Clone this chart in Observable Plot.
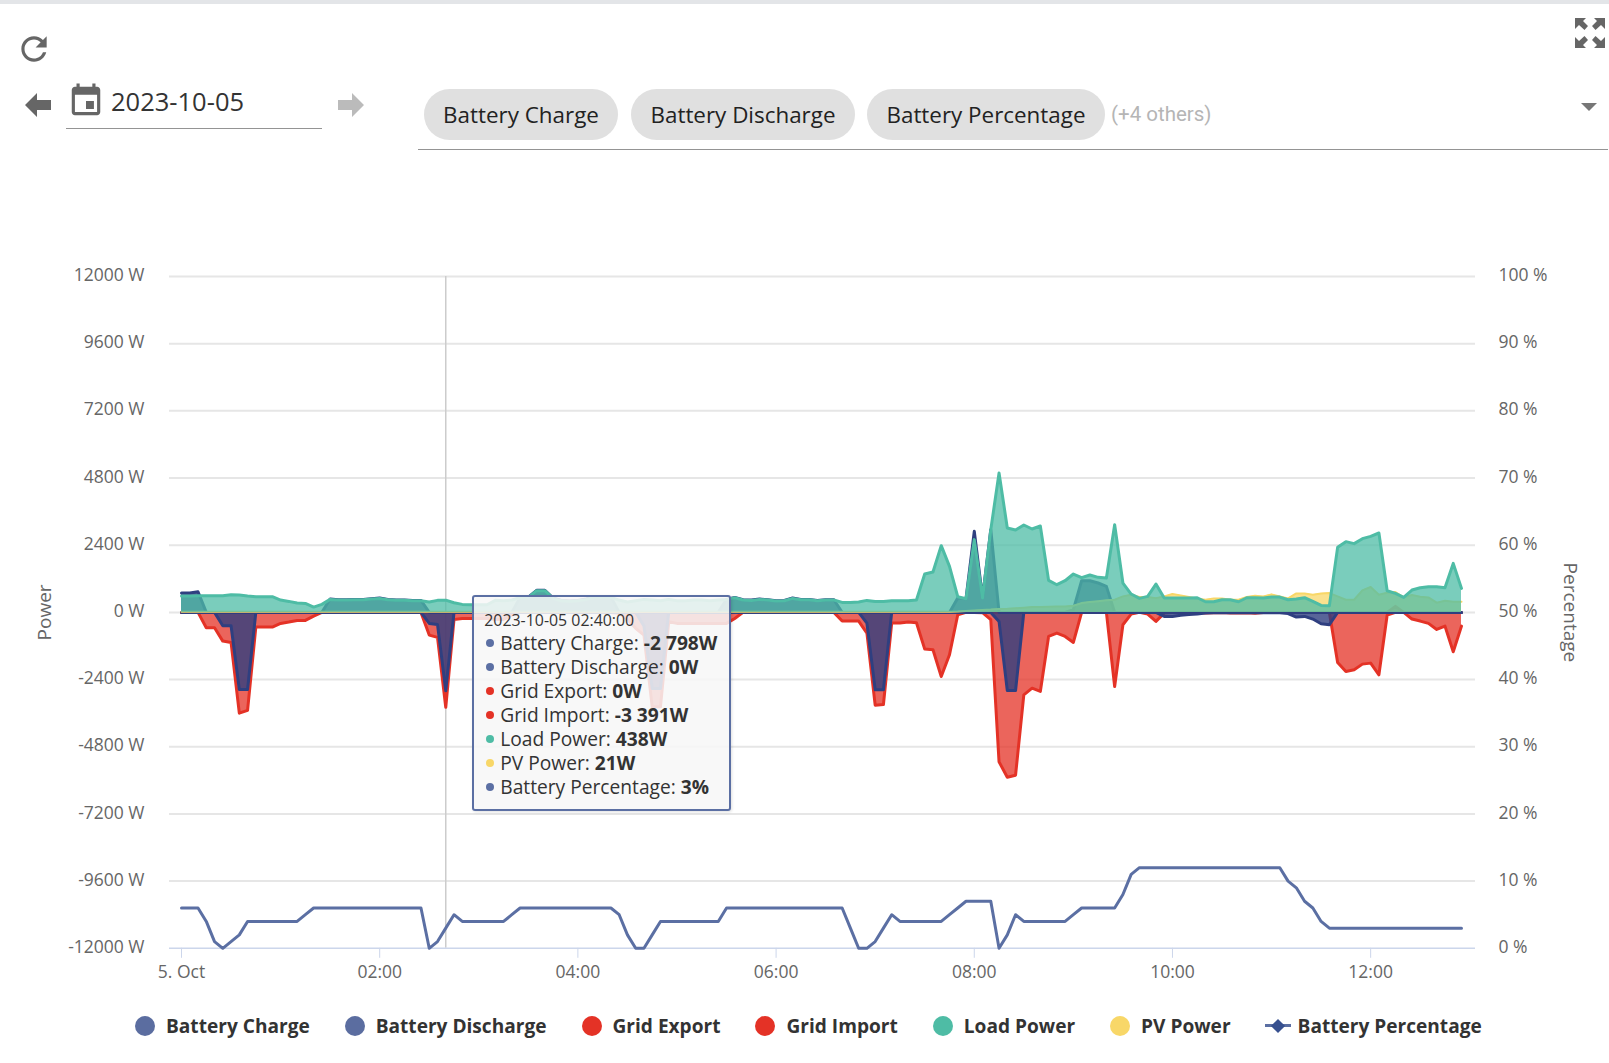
<!DOCTYPE html>
<html>
<head>
<meta charset="utf-8">
<script src="https://cdn.jsdelivr.net/npm/d3@7"></script>
<script src="https://cdn.jsdelivr.net/npm/@observablehq/plot@0.6"></script>
<style>
html,body{margin:0;padding:0;background:#fff;font-family:"Open Sans",sans-serif;}
#page{position:relative;width:1609px;height:1063px;overflow:hidden;}
#head{position:relative;height:200px;}
#head>*{position:absolute;}
.chip{background:#e0e0e0;border-radius:26px;height:51px;top:89px;display:flex;align-items:center;justify-content:center;font-size:22.4px;color:#222;}
#chart svg{display:block;}
#legend{display:flex;align-items:center;height:71px;padding-left:135px;gap:35px;font-weight:700;font-size:19.1px;color:#333;}
#legend .it{display:flex;align-items:center;gap:11px;}
#legend .dot{width:20px;height:20px;border-radius:50%;display:inline-block;}
#legend .ln{width:26px;height:3px;background:#5b6fa3;position:relative;display:inline-block;margin-left:-1px;margin-right:-4px;}
#legend .ln:after{content:"";position:absolute;left:8px;top:-3.5px;width:10px;height:10px;background:#37508f;transform:rotate(45deg);}
#tip{position:absolute;box-sizing:border-box;width:259px;height:216px;background:rgba(247,247,247,.86);border:2px solid #5b6fa3;border-radius:3px;color:#333;box-shadow:1px 1px 3px rgba(0,0,0,.12);}
#tip .ts{position:absolute;left:10px;top:13px;font-size:15.9px;line-height:20px;}
#tip .r{position:absolute;left:26px;font-size:19.2px;line-height:24px;white-space:nowrap;}
#tip .r:before{content:"";position:absolute;left:-14px;top:8px;width:8px;height:8px;border-radius:50%;background:var(--c);}
</style>
</head>
<body>
<div id="page">
  <div id="head">
    <div style="left:0;top:0;width:1609px;height:4px;background:#e3e5e8"></div>
    <svg style="left:15px;top:30px" width="38" height="38" viewBox="0 0 24 24" fill="#666"><path d="M17.65 6.35C16.2 4.9 14.21 4 12 4c-4.42 0-7.99 3.58-7.99 8s3.57 8 7.99 8c3.73 0 6.84-2.55 7.73-6h-2.08c-.82 2.33-3.04 4-5.65 4-3.31 0-6-2.69-6-6s2.69-6 6-6c1.66 0 3.14.69 4.22 1.78L13 11h7V4l-2.35 2.35z"/></svg>
    <svg style="left:25px;top:93px" width="26" height="24" viewBox="0 0 26 24" fill="#666"><polygon points="0,12 12,0 12,7 26,7 26,17 12,17 12,24"/></svg>
    <svg style="left:67px;top:82px" width="38" height="38" viewBox="0 0 24 24" fill="#666"><path d="M17 12h-5v5h5v-5zM16 1v2H8V1H6v2H5c-1.11 0-1.99.9-1.99 2L3 19c0 1.1.89 2 2 2h14c1.1 0 2-.9 2-2V5c0-1.1-.9-2-2-2h-1V1h-2zm3 18H5V8h14v11z"/></svg>
    <div style="left:111px;top:83px;font-size:25.5px;line-height:36px;color:#333">2023-10-05</div>
    <div style="left:66px;top:128px;width:256px;height:1px;background:#949494"></div>
    <svg style="left:338px;top:93px" width="26" height="24" viewBox="0 0 26 24" fill="#bbb"><polygon points="26,12 14,0 14,7 0,7 0,17 14,17 14,24"/></svg>
    <div class="chip" style="left:424px;width:194px">Battery Charge</div>
    <div class="chip" style="left:631px;width:224px">Battery Discharge</div>
    <div class="chip" style="left:867px;width:238px">Battery Percentage</div>
    <div style="left:1111px;top:99px;font-family:Roboto;font-size:20.5px;line-height:30px;color:#b5b5b5">(+4 others)</div>
    <svg style="left:1581px;top:103px" width="16" height="8" viewBox="0 0 16 8" fill="#777"><polygon points="0,0 16,0 8,8"/></svg>
    <div style="left:418px;top:149px;width:1190px;height:1px;background:#949494"></div>
    <svg style="left:1575px;top:18px" width="30" height="30" viewBox="0 0 30 30" fill="#666">
      <polygon points="0,0 11,0 8,3 13,8 9.5,12 4,7 0,11"/>
      <polygon points="30,0 19,0 22,3 17,8 20.5,12 26,7 30,11"/>
      <polygon points="0,30 11,30 8,27 13,22 9.5,18 4,23 0,19"/>
      <polygon points="30,30 19,30 22,27 17,22 20.5,18 26,23 30,19"/>
    </svg>
  </div>
  <div id="chart"></div>
  <div id="legend"></div>
</div>
<script>
const seriesNames = ["Battery Charge","Battery Discharge","Grid Export","Grid Import","Load Power","PV Power","Battery Percentage"];
const tooltipStamp = "2023-10-05 02:40:00";
const tooltipIndex = 32;
const yTicks = [12000,9600,7200,4800,2400,0,-2400,-4800,-7200,-9600,-12000];
const pctTicks = [100,90,80,70,60,50,40,30,20,10,0];
const xTickHours = [0,2,4,6,8,10,12];
const xTickLabels = ["5. Oct","02:00","04:00","06:00","08:00","10:00","12:00"];

const loadPower = [
584,584,596,596,596,596,630,620,584,560,
560,560,440,393,334,322,190,286,465,441,
441,453,453,477,500,453,430,430,417,417,
370,430,438,346,286,274,274,274,430,417,
441,525,536,775,775,500,417,393,417,465,
536,536,536,441,370,417,465,441,417,465,
417,417,441,441,417,441,465,524,441,429,
465,441,405,417,500,453,453,417,441,441,
358,358,370,429,393,393,417,417,417,441,
1371,1442,2384,1645,560,489,2600,513,2956,4983,
3016,2944,3123,2980,3087,1144,989,1132,1371,1240,
1335,1252,1228,3135,1049,656,500,572,1013,513,
513,513,513,524,381,381,453,453,381,524,
524,513,548,548,453,477,524,393,250,238,
2324,2527,2456,2634,2718,2837,775,680,536,799,
882,918,918,882,1752,858];

const batteryDischarge = [
690,690,740,0,0,0,0,0,0,0,
0,0,0,0,0,0,0,0,477,453,
453,465,465,489,512,465,442,442,429,429,
0,0,0,0,0,0,0,0,0,0,
0,537,548,790,790,512,429,405,429,477,
548,548,548,0,0,0,0,0,0,0,
0,0,0,0,0,0,465,536,453,441,
477,453,417,429,512,465,465,429,453,453,
0,0,0,0,0,0,0,0,0,0,
0,0,0,0,510,489,2897,513,2956,0,
0,0,0,0,0,0,0,0,100,1132,
1132,1050,930,0,0,0,0,0,0,0,
0,0,0,0,0,0,0,0,0,0,
0,0,0,0,0,0,0,0,0,0,
0,0,0,0,0,0,0,0,0,0,
0,0,0,0,0,0];

const batteryCharge = [
0,0,0,0,0,-477,-477,-2754,-2754,0,
0,0,0,0,0,0,0,0,0,0,
0,0,0,0,0,0,0,0,0,0,
-393,-430,-2798,0,0,0,0,0,0,0,
0,0,0,0,0,0,0,0,0,0,
0,0,0,0,0,0,-489,-2718,-2718,0,
0,0,0,0,0,0,0,0,0,0,
0,0,0,0,0,0,0,0,0,0,
0,0,0,-381,-2765,-2765,0,0,0,0,
0,0,0,0,0,0,0,0,0,-322,
-2790,-2790,0,0,0,0,0,0,0,0,
0,0,0,0,0,0,0,0,0,-143,
-143,-100,-72,-60,-20,-15,-15,-15,-15,-15,
-15,-12,-12,-12,-40,-167,-143,-238,-405,-441,
0,0,0,0,0,0,0,0,0,0,
0,0,0,0,0,0];

const gridImport = [
0,0,0,-548,-548,-1025,-1073,-3600,-3500,-524,
-524,-524,-393,-346,-286,-286,-131,0,0,0,
0,0,0,0,0,0,0,0,0,0,
-810,-894,-3391,-250,-215,-215,-215,-215,-250,-250,
-100,0,0,0,0,0,0,0,0,0,
0,0,0,-30,-250,-570,-810,-3373,-3373,-334,
-393,-393,-393,-393,-393,-393,-393,-215,0,0,
0,0,0,0,0,0,0,0,0,0,
-310,-310,-310,-739,-3314,-3290,-382,-382,-346,-370,
-1311,-1335,-2289,-1514,-83,0,0,-10,-262,-5340,
-5890,-5816,-2944,-2706,-2825,-858,-739,-858,-1073,0,
0,0,0,-2646,-441,-60,0,-60,-322,-24,
0,0,0,0,-20,-10,0,-25,-25,-10,
-30,0,0,0,0,0,0,0,0,0,
-1788,-2110,-2050,-1848,-1812,-2229,-95,0,0,-238,
-310,-393,-608,-489,-1407,-489];

const gridExport = [
0,0,0,0,0,0,0,0,0,0,0,0,0,0,0,0,0,0,0,0,
0,0,0,0,0,0,0,0,0,0,0,0,0,0,0,0,0,0,0,0,
0,0,0,0,0,0,0,0,0,0,0,0,0,0,0,0,0,0,0,0,
0,0,0,0,0,0,0,0,0,0,0,0,0,0,0,0,0,0,0,0,
0,0,0,0,0,0,0,0,0,0,0,0,0,0,0,0,0,0,0,0,
0,0,0,0,0,0,0,0,0,0,0,0,0,0,0,0,0,0,0,0,
0,0,0,0,0,0,0,0,0,0,0,0,0,0,0,0,0,0,0,0,
0,0,0,0,0,0,0,215,0,0,0,0,0,0,0,0];

const pvPower = [
20,20,20,20,20,20,20,20,20,20,
20,20,20,20,20,20,20,20,20,20,
20,20,20,20,20,20,20,20,20,20,
20,20,21,20,20,20,20,20,20,20,
20,20,20,20,20,20,20,20,20,20,
20,20,20,20,20,20,20,20,20,20,
20,20,20,20,20,20,20,20,20,20,
20,20,20,20,20,20,20,20,20,20,
20,20,20,20,20,20,20,20,20,20,
20,20,20,20,30,50,70,90,100,120,
130,150,170,190,195,200,210,215,240,333,
370,400,430,453,572,632,548,548,510,572,
656,608,548,489,453,501,501,453,453,548,
596,572,644,572,501,679,679,632,679,691,
572,453,453,787,906,632,703,727,536,620,
560,536,346,417,381,381];

const batteryPct = [
6,6,6,4,1,0,1,2,4,4,
4,4,4,4,4,5,6,6,6,6,
6,6,6,6,6,6,6,6,6,6,
0,1,3,5,4,4,4,4,4,4,
5,6,6,6,6,6,6,6,6,6,
6,6,6,5,2,0,0,2,4,4,
4,4,4,4,4,4,6,6,6,6,
6,6,6,6,6,6,6,6,6,6,
6,3,0,0,1,3,5,4,4,4,
4,4,4,5,6,7,7,7,7,0,
2,5,4,4,4,4,4,4,5,6,
6,6,6,6,8,11,12,12,12,12,
12,12,12,12,12,12,12,12,12,12,
12,12,12,12,10,9,7,6,4,3,
3,3,3,3,3,3,3,3,3,3,
3,3,3,3,3,3];

const t0 = Date.UTC(2023,9,5);
const hour = 3600e3;
const rows = batteryPct.map((p,i)=>({t:new Date(t0+i*300e3),charge:batteryCharge[i],discharge:batteryDischarge[i],exp:gridExport[i],imp:gridImport[i],load:loadPower[i],pv:pvPower[i],pct:p}));
const hoverTime = rows[tooltipIndex].t;
const pctToY = p => p*240-12000;

const cBlue="#2f3f80", cRed="#e43226", cGreen="#4ebca5", cYellow="#f8d768", cPct="#5b6fa3";
const FO=0.75, SW=3;
const areaPair=(k,fill,fo=FO,sw=SW)=>[
  Plot.areaY(rows,{x:"t",y1:0,y2:k,fill,fillOpacity:fo}),
  Plot.lineY(rows,{x:"t",y:k,stroke:fill,strokeWidth:sw,strokeLinejoin:"round"})
];

const chart = Plot.plot({
  width:1609,height:790,marginTop:76,marginBottom:42.2,marginLeft:169,marginRight:134,
  style:{fontFamily:"Open Sans",fontSize:"17.5px",background:"transparent",overflow:"visible"},
  x:{type:"utc",domain:[new Date(t0-0.1211*hour),new Date(t0+13.058*hour)]},
  y:{domain:[-12000,12000]},
  marks:[
    Plot.ruleY(yTicks.filter(v=>v>-12000),{stroke:"#e6e6e6",strokeWidth:2}),
    Plot.ruleX([hoverTime],{y1:-12000,y2:12000,stroke:"#cccccc",strokeWidth:1.5}),
    Plot.axisX(xTickHours.map(h=>new Date(t0+h*hour)),{tickSize:10,tickPadding:7.5,stroke:"#ccd6eb",fill:"#666",label:null,tickFormat:(d,i)=>xTickLabels[i]}),
    Plot.ruleY([-12000],{stroke:"#ccd6eb",strokeWidth:1.5}),
    Plot.axisY(yTicks,{anchor:"left",tickSize:0,tickPadding:25,dy:-1,fill:"#666",label:null,tickFormat:d=>d+" W"}),
    Plot.axisY(yTicks,{anchor:"right",tickSize:0,tickPadding:23,dy:-1,fill:"#666",label:null,tickFormat:(d,i)=>pctTicks[i]+" %"}),
    Plot.text(["Power"],{frameAnchor:"left",dx:-125,rotate:-90,textAnchor:"middle",fill:"#666",fontSize:19}),
    Plot.text(["Percentage"],{frameAnchor:"right",dx:95,rotate:90,textAnchor:"middle",fill:"#666",fontSize:19}),
    ...areaPair("exp",cRed),
    ...areaPair("imp",cRed),
    ...areaPair("discharge",cBlue,0.8),
    ...areaPair("charge",cBlue,0.8),
    ...areaPair("pv",cYellow,FO,2),
    ...areaPair("load",cGreen),
    Plot.lineY(rows,{x:"t",y:d=>pctToY(d.pct),stroke:cPct,strokeWidth:3,strokeLinejoin:"round"})
  ]
});
document.getElementById("chart").appendChild(chart);

const fmtBase = d3.formatLocale({decimal:".",thousands:" ",grouping:[3],currency:["",""],minus:"-"}).format(",d");
const sx = chart.scale("x"), sy = chart.scale("y");
const tip = document.createElement("div");
tip.id="tip";
tip.style.left=(sx.apply(hoverTime)+27)+"px";
tip.style.top=(200+sy.apply(0)-17)+"px";
const tipVals=[
  [seriesNames[0],batteryCharge[tooltipIndex],"W",cPct],
  [seriesNames[1],batteryDischarge[tooltipIndex],"W",cPct],
  [seriesNames[2],gridExport[tooltipIndex],"W",cRed],
  [seriesNames[3],gridImport[tooltipIndex],"W",cRed],
  [seriesNames[4],loadPower[tooltipIndex],"W",cGreen],
  [seriesNames[5],pvPower[tooltipIndex],"W",cYellow],
  [seriesNames[6],batteryPct[tooltipIndex],"%",cPct]
];
tip.innerHTML=`<div class="ts">${tooltipStamp}</div>`+tipVals.map((r,i)=>`<div class="r" style="top:${34+i*24}px;--c:${r[3]}">${r[0]}: <b>${fmtBase(r[1])}${r[2]}</b></div>`).join("");
document.getElementById("page").appendChild(tip);

const legendColors=["#5b6da0","#5b6da0",cRed,cRed,cGreen,cYellow,null];
document.getElementById("legend").innerHTML=seriesNames.map((n,i)=>
  `<span class="it">${legendColors[i]?`<span class="dot" style="background:${legendColors[i]}"></span>`:`<span class="ln"></span>`}<span>${n}</span></span>`).join("");
</script>
</body>
</html>
